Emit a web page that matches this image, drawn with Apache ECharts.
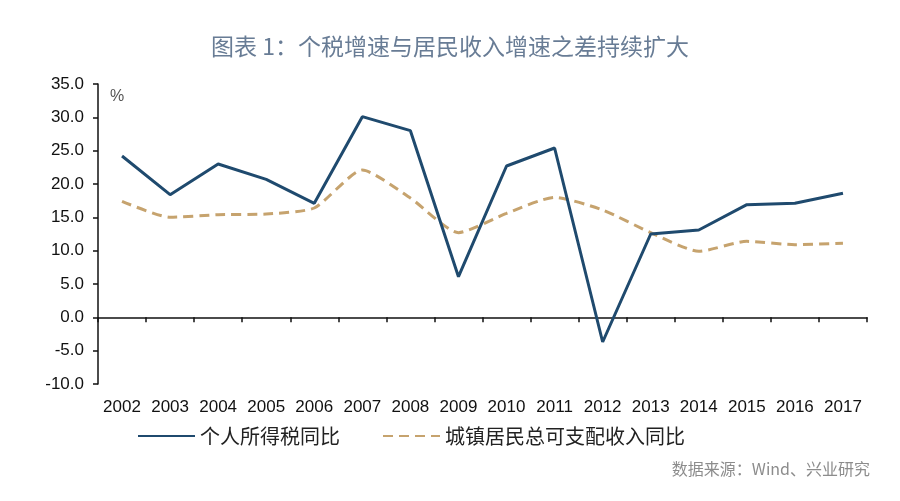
<!DOCTYPE html>
<html>
<head>
<meta charset="utf-8">
<script src="https://cdn.jsdelivr.net/npm/echarts@6/dist/echarts.min.js"></script>
<style>
html,body{margin:0;padding:0;background:#fff;}
#main{width:900px;height:501px;}
</style>
</head>
<body>
<div id="main"></div>
<script>
var titleText = '图表 1：个税增速与居民收入增速之差持续扩大';
var sourceText = '数据来源：Wind、兴业研究';
var unitText = '%';
var years = ['2002','2003','2004','2005','2006','2007','2008','2009','2010','2011','2012','2013','2014','2015','2016','2017'];
var seriesNames = ['个人所得税同比', '城镇居民总可支配收入同比'];
var taxGrowth = [24.2, 18.4, 23.0, 20.7, 17.1, 30.1, 28.0, 6.1, 22.7, 25.4, -3.7, 12.5, 13.1, 16.9, 17.1, 18.6];
var incomeGrowth = [17.4, 15.0, 15.4, 15.5, 16.4, 22.1, 17.9, 12.7, 15.6, 18.0, 16.1, 12.7, 9.9, 11.4, 10.9, 11.1];
var yMin = -10, yMax = 35, yStep = 5;

var chart = echarts.init(document.getElementById('main'));
chart.setOption({
  backgroundColor: '#ffffff',
  animation: false,
  title: {
    text: titleText,
    left: 'center',
    top: 30,
    textStyle: {fontFamily: 'Noto Sans CJK SC', fontSize: 23, fontWeight: 'normal', color: '#687c95'}
  },
  graphic: [
    {type: 'text', left: 110, top: 89, style: {text: unitText, fontFamily: 'Liberation Sans', fontSize: 16, fill: '#555'}},
    {type: 'text', right: 30, top: 461, style: {text: sourceText, fontFamily: 'Noto Sans CJK SC', fontSize: 16, fill: '#8c8c8c'}}
  ],
  legend: {
    left: 132,
    top: 421,
    itemWidth: 57,
    itemHeight: 12,
    itemGap: 42,
    itemStyle: {opacity: 0},
    textStyle: {fontFamily: 'Noto Sans CJK SC', fontSize: 20, color: '#222'},
    data: seriesNames
  },
  grid: {left: 98, right: 33, top: 84, bottom: 117, containLabel: false},
  xAxis: [
    {
      type: 'category',
      data: years,
      position: 'bottom',
      axisLine: {onZero: true, lineStyle: {color: '#111', width: 1.5}},
      axisTick: {show: true, length: 5, lineStyle: {color: '#111', width: 1.5}},
      axisLabel: {show: false},
      splitLine: {show: false}
    },
    {
      type: 'category',
      data: years,
      position: 'bottom',
      axisLine: {show: false, onZero: false},
      axisTick: {show: false},
      axisLabel: {show: true, margin: 15, fontFamily: 'Liberation Sans', fontSize: 17, color: '#111', interval: 0},
      splitLine: {show: false}
    }
  ],
  yAxis: {
    type: 'value',
    min: yMin,
    max: yMax,
    interval: yStep,
    axisLine: {show: true, lineStyle: {color: '#111', width: 1.5}},
    axisTick: {show: true, length: 5, lineStyle: {color: '#111', width: 1.5}},
    axisLabel: {
      margin: 14,
      fontFamily: 'Liberation Sans',
      fontSize: 17,
      color: '#111',
      formatter: function (v) { return v.toFixed(1); }
    },
    splitLine: {show: false}
  },
  series: [
    {
      name: seriesNames[0],
      type: 'line',
      xAxisIndex: 0,
      data: taxGrowth,
      symbol: 'none',
      lineStyle: {color: '#1f4a6e', width: 3},
      itemStyle: {color: '#1f4a6e'},
      z: 3
    },
    {
      name: seriesNames[1],
      type: 'line',
      xAxisIndex: 0,
      data: incomeGrowth,
      symbol: 'none',
      smooth: 0.2,
      lineStyle: {color: '#c6a36e', width: 3, type: [10, 6]},
      itemStyle: {color: '#c6a36e'},
      z: 2
    }
  ]
});
</script>
</body>
</html>
